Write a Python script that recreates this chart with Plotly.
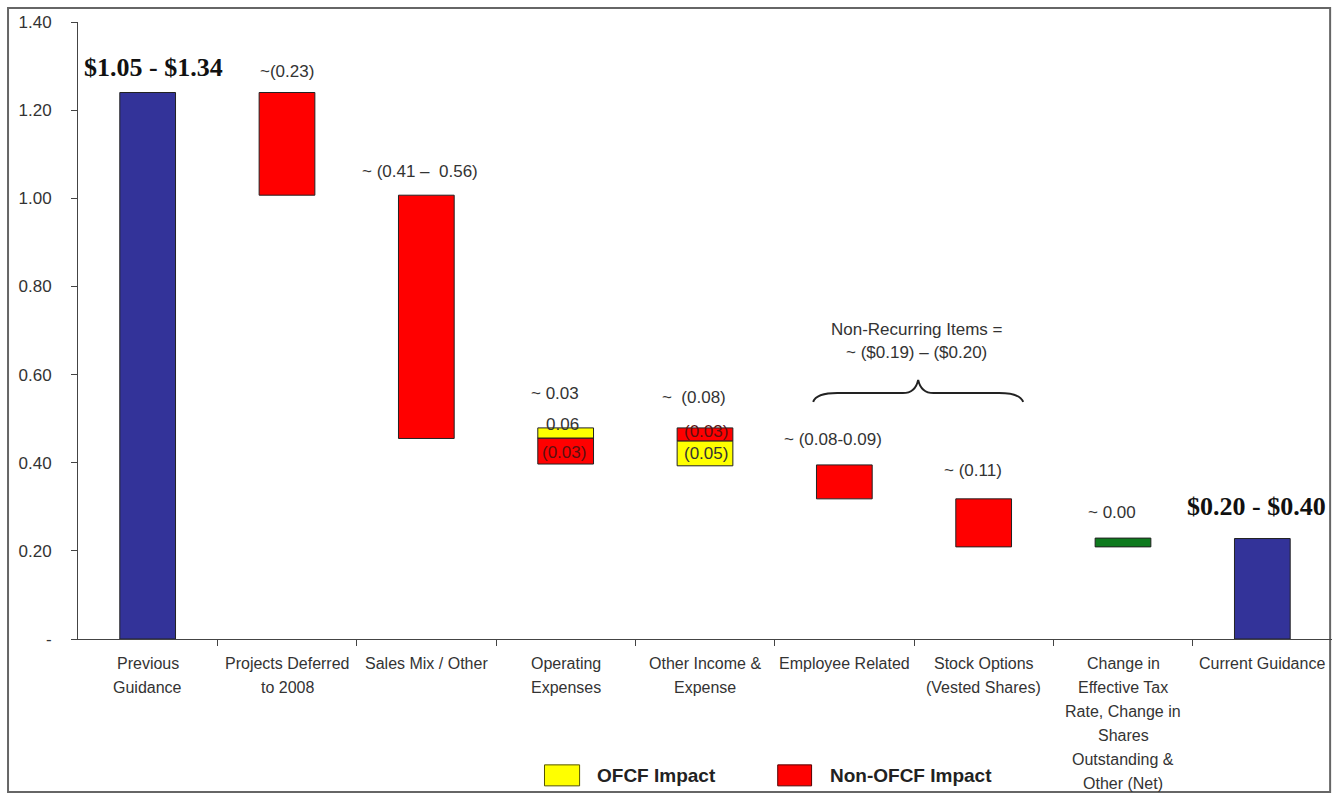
import plotly.graph_objects as go

# ---- data ----
categories = [
    ["Previous", "Guidance"],
    ["Projects Deferred", "to 2008"],
    ["Sales Mix / Other"],
    ["Operating", "Expenses"],
    ["Other Income &", "Expense"],
    ["Employee Related"],
    ["Stock Options", "(Vested Shares)"],
    ["Change in", "Effective Tax", "Rate, Change in", "Shares", "Outstanding &", "Other (Net)"],
    ["Current Guidance"],
]
guidance_low = [0.0, None, None, None, None, None, None, None, 0.0]
guidance_high = [1.24, None, None, None, None, None, None, None, 0.228]
nonofcf_low = [None, 1.007, 0.455, 0.397, 0.449, 0.318, 0.209, None, None]
nonofcf_high = [None, 1.24, 1.007, 0.456, 0.479, 0.395, 0.318, None, None]
ofcf_low = [None, None, None, 0.456, 0.393, None, None, None, None]
ofcf_high = [None, None, None, 0.479, 0.449, None, None, None, None]
other_low = [None, None, None, None, None, None, None, 0.209, None]
other_high = [None, None, None, None, None, None, None, 0.229, None]
y_tickvals = [0, 0.2, 0.4, 0.6, 0.8, 1.0, 1.2, 1.4]
y_ticktext = ["-", "0.20", "0.40", "0.60", "0.80", "1.00", "1.20", "1.40"]

# value labels: (x index, y, text, style)
value_labels = [
    (0.04, 1.296, "$1.05 - $1.34", "big"),
    (1.0, 1.287, "~(0.23)", "n"),
    (1.955, 1.06, "~ (0.41 \u2013  0.56)", "n"),
    (2.92, 0.558, "~ 0.03", "n"),
    (2.98, 0.486, "0.06", "n"),
    (2.99, 0.424, "(0.03)", "in"),
    (3.92, 0.549, "~  (0.08)", "n"),
    (4.01, 0.47, "(0.03)", "in"),
    (4.01, 0.422, "(0.05)", "n"),
    (4.92, 0.452, "~ (0.08-0.09)", "n"),
    (5.92, 0.383, "~ (0.11)", "n"),
    (6.92, 0.286, "~ 0.00", "n"),
    (7.96, 0.30, "$0.20 - $0.40", "big"),
    (5.52, 0.703, "Non-Recurring Items =", "n"),
    (5.52, 0.649, "~ ($0.19) \u2013 ($0.20)", "n"),
]

x = list(range(len(categories)))


def heights(lo, hi):
    return [None if a is None else b - a for a, b in zip(lo, hi)]


fig = go.Figure()
line = dict(color="#222222", width=1)
fig.add_trace(go.Bar(x=x, base=guidance_low, y=heights(guidance_low, guidance_high),
                     marker=dict(color="#333399", line=line), name="Guidance", width=0.4))
fig.add_trace(go.Bar(x=x, base=nonofcf_low, y=heights(nonofcf_low, nonofcf_high),
                     marker=dict(color="#FF0000", line=line), name="Non-OFCF Impact", width=0.4))
fig.add_trace(go.Bar(x=x, base=ofcf_low, y=heights(ofcf_low, ofcf_high),
                     marker=dict(color="#FFFF00", line=line), name="OFCF Impact", width=0.4))
fig.add_trace(go.Bar(x=x, base=other_low, y=heights(other_low, other_high),
                     marker=dict(color="#0E7A1E", line=line), name="Other", width=0.4))

annotations = []
for xi, yi, txt, style in value_labels:
    if style == "big":
        font = dict(family="Liberation Serif, Times New Roman, serif", size=26, color="#111111")
        txt = "<b>" + txt + "</b>"
    elif style == "in":
        font = dict(family="Liberation Sans, Arial, sans-serif", size=17, color="#5a1010")
    else:
        font = dict(family="Liberation Sans, Arial, sans-serif", size=17, color="#333333")
    annotations.append(dict(x=xi, y=yi, xref="x", yref="y", text=txt, showarrow=False,
                            font=font, xanchor="center", yanchor="middle"))

# category labels with wide line spacing
for i, lines in enumerate(categories):
    for k, ln in enumerate(lines):
        annotations.append(dict(x=i, y=0, xref="x", yref="paper", text=ln, showarrow=False,
                                yanchor="middle", yshift=-24 - 24 * k,
                                font=dict(family="Liberation Sans, Arial, sans-serif",
                                          size=16, color="#333333")))

# legend text
annotations.append(dict(x=0.412, y=-0.222, xref="paper", yref="paper", text="<b>OFCF Impact</b>",
                        showarrow=False, xanchor="left", yanchor="middle",
                        font=dict(family="Liberation Sans, Arial, sans-serif", size=19, color="#222222")))
annotations.append(dict(x=0.598, y=-0.222, xref="paper", yref="paper", text="<b>Non-OFCF Impact</b>",
                        showarrow=False, xanchor="left", yanchor="middle",
                        font=dict(family="Liberation Sans, Arial, sans-serif", size=19, color="#222222")))

shapes = [
    # outer frame
    dict(type="rect", xref="paper", yref="paper", x0=-0.0558, x1=0.9985, y0=-0.248, y1=1.0227,
         line=dict(color="#666666", width=2), layer="below"),
    # legend swatches
    dict(type="rect", xref="paper", yref="paper", x0=0.372, x1=0.400, y0=-0.238, y1=-0.204,
         fillcolor="#FFFF00", line=dict(color="#555500", width=1)),
    dict(type="rect", xref="paper", yref="paper", x0=0.558, x1=0.585, y0=-0.238, y1=-0.204,
         fillcolor="#FF0000", line=dict(color="#550000", width=1)),
    # curly brace over non-recurring items
    dict(type="path", xref="x", yref="y",
         path="M 4.776,0.538 Q 4.80,0.558 4.95,0.558 L 5.42,0.558 Q 5.51,0.558 5.53,0.588 "
              "Q 5.55,0.558 5.64,0.558 L 6.11,0.558 Q 6.26,0.558 6.284,0.538",
         line=dict(color="#222222", width=2)),
]

fig.update_layout(
    width=1332, height=796,
    margin=dict(l=78, r=0, t=22, b=157),
    plot_bgcolor="white", paper_bgcolor="white",
    showlegend=False,
    barmode="overlay",
    annotations=annotations,
    shapes=shapes,
    font=dict(family="Liberation Sans, Arial, sans-serif", color="#333333"),
)
fig.update_xaxes(range=[-0.5, 8.5], tickvals=[i - 0.5 for i in range(1, len(categories))],
                 showticklabels=False, ticks="outside", ticklen=6, tickcolor="#444444",
                 showline=True, linecolor="#444444", linewidth=1, showgrid=False, zeroline=False)
fig.update_yaxes(range=[0, 1.4], tickvals=y_tickvals, ticktext=y_ticktext,
                 ticks="outside", ticklen=6, tickcolor="#444444", ticklabelstandoff=16,
                 tickfont=dict(family="Liberation Sans, Arial, sans-serif", size=17, color="#333333"),
                 showline=True, linecolor="#444444", linewidth=1, showgrid=False, zeroline=False)

fig.write_html("out.html")
